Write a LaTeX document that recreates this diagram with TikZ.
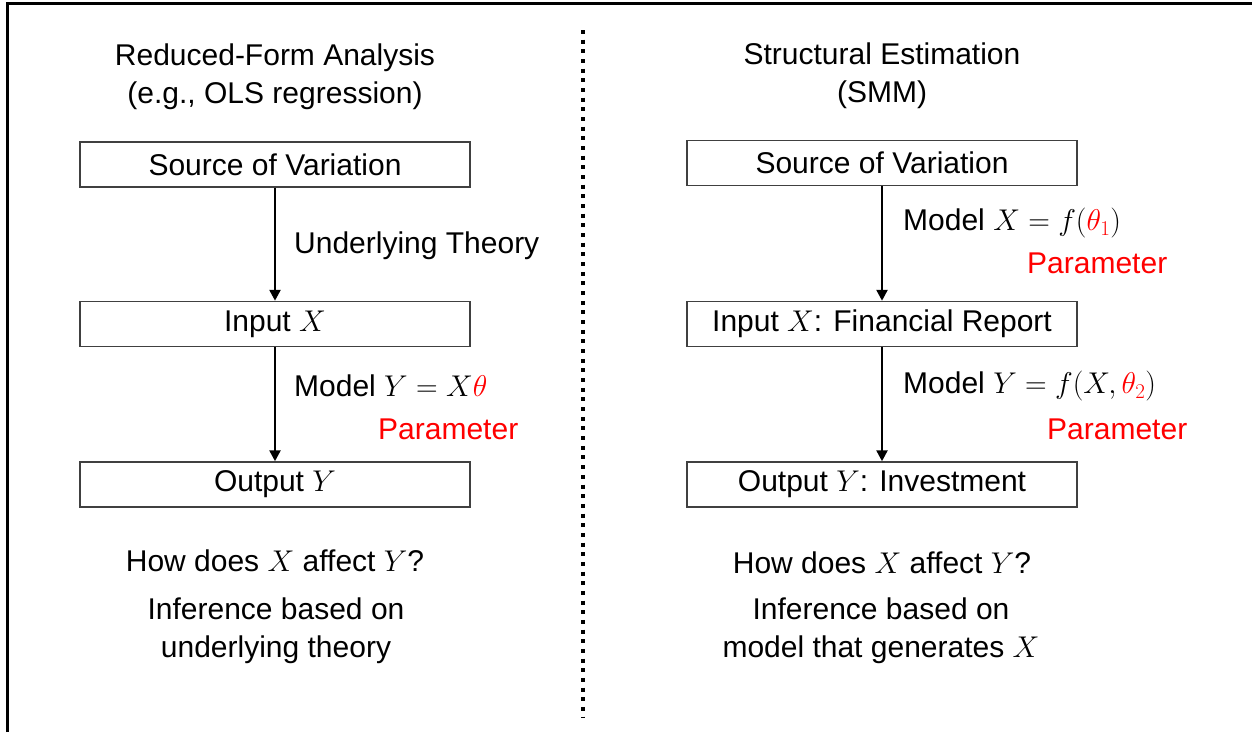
\RequirePackage{fix-cm}
\documentclass[tikz,border=0pt]{standalone}
\usepackage{fontspec}
\setmainfont{Liberation Sans}
\usetikzlibrary{arrows.meta,positioning}
\definecolor{pFrame}{gray}{0.25}
\definecolor{pRed}{RGB}{255,0,0}
\tikzset{
    box/.style={draw=pFrame, line width=1.5pt, minimum width=390pt, minimum height=45pt, inner sep=0pt},
    lbl/.style={inner sep=0pt, anchor=west},
    param/.style={inner sep=0pt, anchor=west, text=pRed},
    txt/.style={inner sep=0pt, align=center},
    flow/.style={line width=2.5pt, -{Triangle[length=11pt,width=11pt]}}
}

\begin{document}
\begin{tikzpicture}[x=1pt,y=-1pt,font=\fontsize{30}{38}\selectfont]
\useasboundingbox (0,0) rectangle (1252,732);
\draw[line width=3pt] (7.5,732) -- (7.5,3) -- (1252,3);
% divider
\coordinate (dtop) at (583,30);
\coordinate (dbot) at (583,718);
\draw[line width=4pt, dash pattern=on 4pt off 5.67pt] (dtop) -- (dbot);

% reduced form
\node[txt] (ltitle) at (275,77) {Reduced-Form Analysis\\(e.g., OLS regression)};
\node[box] (lsrc) at (275,164.5) {Source of Variation};
\node[box] (lin)  at (275,324) {Input $X$};
\node[box] (lout) at (275,484.5) {Output $Y$};
\draw[flow] (lsrc) -- (lin);
\draw[flow] (lin) -- (lout);
\node[lbl] (lthy) at (294,246) {Underlying Theory};
\node[lbl] (lmod) at (294,386) {Model $Y=X\textcolor{pRed}{\theta}$};
\node[param] (lpar) at (378,429) {Parameter};
\node[txt] (lq)   at (275,561) {How does $X$ affect $Y$?};
\node[txt] (linf) at (276,631) {Inference based on\\underlying theory};

% structural
\node[txt] (rtitle) at (882,76) {Structural Estimation\\(SMM)};
\node[box] (rsrc) at (882,163) {Source of Variation};
\node[box] (rin)  at (882,324) {Input $X$: Financial Report};
\node[box] (rout) at (882,484.5) {Output $Y$: Investment};
\draw[flow] (rsrc) -- (rin);
\draw[flow] (rin) -- (rout);
\node[lbl] (rmodx) at (903,223) {Model $X=f(\textcolor{pRed}{\theta_1})$};
\node[param] (rpar1) at (1027,263) {Parameter};
\node[lbl] (rmody) at (903,386) {Model $Y=f(X,\textcolor{pRed}{\theta_2})$};
\node[param] (rpar2) at (1047,429) {Parameter};
\node[txt] (rq)   at (882,563) {How does $X$ affect $Y$?};
\node[txt] (rinf) at (881,631) {Inference based on\\model that generates $X$};
\end{tikzpicture}
\end{document}
